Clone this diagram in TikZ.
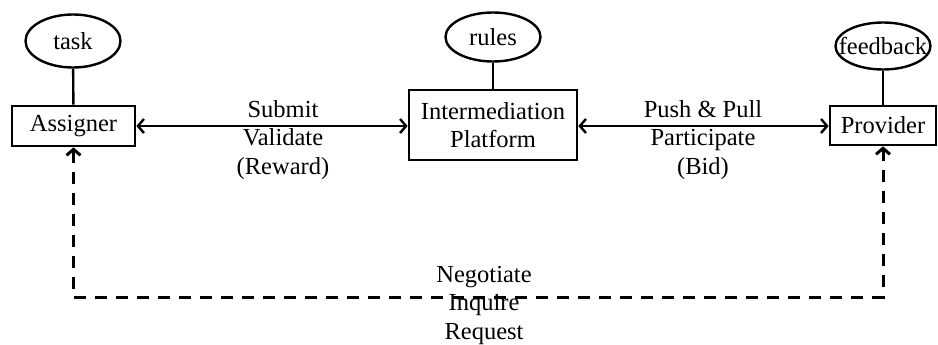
\documentclass[tikz,border=0pt]{standalone}
\usepackage{fontspec}
\setmainfont{Liberation Serif}
\usetikzlibrary{shapes.geometric,arrows.meta}
\begin{document}
\begin{tikzpicture}[x=1pt,y=-1pt,
  every node/.style={font=\fontsize{24.5}{28.5}\selectfont},
  bubble/.style={draw,ellipse,line width=2.4pt,inner sep=0pt},
  actor/.style={draw,rectangle,line width=2.7pt,inner sep=0pt,align=center},
  lbl/.style={align=center,inner sep=0pt},
  link/.style={line width=2.4pt},
  biarrow/.style={link,{Straight Barb[length=6pt,width=14pt]}-{Straight Barb[length=6pt,width=14pt]}},
  dasharrow/.style={line width=3pt,dash pattern=on 12pt off 9pt,{Straight Barb[length=6pt,width=14pt]}-{Straight Barb[length=6pt,width=14pt]}}
]
\useasboundingbox (0,0) rectangle (938,345);

\node[bubble,minimum width=95pt,minimum height=53pt] (task) at (73,41) {task};
\node[bubble,minimum width=95pt,minimum height=49pt] (rules) at (493,37) {rules};
\node[bubble,minimum width=95pt,minimum height=47pt,inner xsep=-11pt] (feedback) at (883,46) {feedback};

\node[actor,minimum width=123pt,minimum height=40pt] (assigner) at (73.5,126) {Assigner};
\node[actor,minimum width=168pt,minimum height=70pt] (platform) at (493,125) {Intermediation\\Platform};
\node[actor,minimum width=106pt,minimum height=39pt] (provider) at (883,125.5) {Provider};

\draw[link] (task) -- (assigner);
\draw[link] (rules) -- (platform);
\draw[link] (feedback) -- (provider);

\draw[biarrow] (assigner.east |- 0,126) -- (platform.west |- 0,126);
\draw[biarrow] (platform.east |- 0,126) -- (provider.west |- 0,126);

\node[lbl,anchor=base] (l1) at (283,174) {Submit\\Validate\\(Reward)};
\node[lbl,anchor=base] (l2) at (703,174) {Push \& Pull\\Participate\\(Bid)};

\draw[dasharrow] (assigner.south) -- ++(0,150) -| (provider.south);

\node[lbl,anchor=base] (l3) at (484,339) {Negotiate\\Inquire\\Request};
\end{tikzpicture}
\end{document}
